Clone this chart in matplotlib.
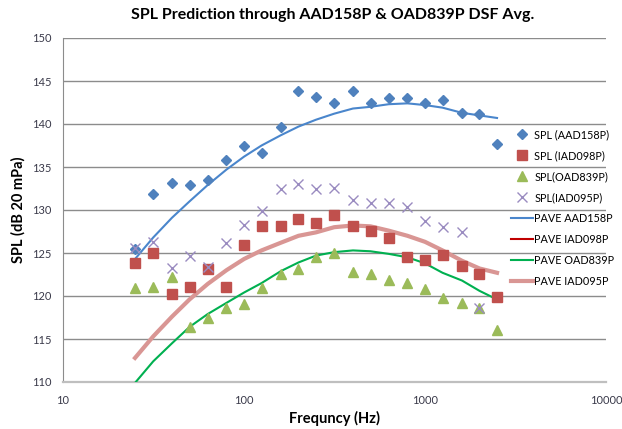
import numpy as np
import matplotlib

matplotlib.use("Agg")
import matplotlib.pyplot as plt

FREQ = [25, 31.5, 40, 50, 63, 80, 100, 125, 160, 200, 250, 315, 400, 500,
        630, 800, 1000, 1250, 1600, 2000, 2500]

SPL_AAD158P = [125.5, 131.9, 133.1, 132.9, 133.5, 135.8, 137.5, 136.6, 139.6, 143.8, 143.1,
               142.4, 143.8, 142.5, 143.0, 143.0, 142.5, 142.8, 141.3, 141.2, 137.7]
SPL_IAD098P = [123.8, 125.0, 120.2, 121.1, 123.1, 121.1, 125.9, 128.1, 128.1, 129.0, 128.5,
               129.4, 128.1, 127.6, 126.7, 124.5, 124.2, 124.8, 123.5, 122.6, 119.9]
SPL_OAD839P = [120.9, 121.0, 122.2, 116.4, 117.5, 118.6, 119.1, 120.9, 122.6, 123.1, 124.5,
               125.0, 122.8, 122.6, 121.9, 121.5, 120.8, 119.8, 119.2, 118.6, 116.0]
SPL_IAD095P = [125.6, 126.3, 123.2, 124.7, 123.4, 126.2, 128.3, 129.9, 132.4, 133.0, 132.5,
               132.6, 131.2, 130.8, 130.8, 130.3, 128.7, 128.0, 127.4, 118.6, np.nan]

PAVE_AAD158P = [124.3, 126.8, 129.1, 131.0, 132.9, 134.7, 136.2, 137.5, 138.7, 139.7, 140.5,
                141.2, 141.8, 142.0, 142.3, 142.4, 142.2, 141.9, 141.3, 141.0, 140.7]
PAVE_IAD098P = [112.8, 115.3, 117.6, 119.6, 121.4, 123.0, 124.3, 125.3, 126.2, 127.0, 127.4,
                128.0, 128.2, 128.1, 127.6, 127.0, 126.3, 125.3, 124.1, 123.2, 122.7]
PAVE_OAD839P = [109.9, 112.4, 114.5, 116.4, 117.9, 119.2, 120.4, 121.5, 122.9, 123.9, 124.7,
                125.1, 125.3, 125.2, 124.9, 124.5, 123.8, 122.7, 121.8, 120.6, 119.6]
PAVE_IAD095P = [112.8, 115.3, 117.6, 119.6, 121.4, 123.0, 124.3, 125.3, 126.2, 127.0, 127.4,
                128.0, 128.2, 128.1, 127.6, 127.0, 126.3, 125.3, 124.1, 123.2, 122.7]

plt.rcParams["font.family"] = ["Lato", "DejaVu Sans"]

fig = plt.figure(figsize=(6.22, 4.29), dpi=100)
ax = fig.add_axes([63 / 622, 1 - 382 / 429, (606 - 63) / 622, (382 - 38) / 429])

ax.plot(FREQ, SPL_AAD158P, "D", color="#4F81BD", ms=5.5, mec="#4F81BD", label="SPL (AAD158P)", zorder=4)
ax.plot(FREQ, SPL_IAD098P, "s", color="#C0504D", ms=7, mec="#C0504D", label="SPL (IAD098P)", zorder=4)
ax.plot(FREQ, SPL_OAD839P, "^", color="#9BBB59", ms=7.5, mec="#9BBB59", label="SPL(OAD839P)", zorder=4)
ax.plot(FREQ, SPL_IAD095P, "x", color="#9A8BC0", ms=7, mew=1.0, label="SPL(IAD095P)", zorder=4)

ax.plot(FREQ, PAVE_AAD158P, "-", color="#4A86CC", lw=1.5, label="PAVE AAD158P", zorder=3)
ax.plot(FREQ, PAVE_IAD098P, "-", color="#C00000", lw=1.5, label="PAVE IAD098P", zorder=2)
ax.plot(FREQ, PAVE_OAD839P, "-", color="#00B050", lw=1.5, label="PAVE OAD839P", zorder=3)
ax.plot(FREQ, PAVE_IAD095P, "-", color="#D99694", lw=3, label="PAVE IAD095P", zorder=3)

ax.set_xscale("log")
ax.set_xlim(10, 10000)
ax.set_ylim(110, 150)
ax.set_yticks(range(110, 151, 5))
ax.set_xticks([10, 100, 1000, 10000])
ax.set_xticklabels(["10", "100", "1000", "10000"])
ax.minorticks_off()
ax.tick_params(axis="both", length=0, labelsize=8, colors="#3a3a4a")
ax.tick_params(axis="x", pad=9)
ax.tick_params(axis="y", pad=8)
ax.grid(axis="y", color="#8c8c8c", lw=1.0)
ax.set_axisbelow(True)
ax.spines[["top", "right"]].set_visible(False)
ax.spines["left"].set_color("#8c8c8c")
ax.spines["bottom"].set_color("#bfbfbf")
ax.spines["bottom"].set_linewidth(1.6)

ax.set_xlabel("Frequncy (Hz)", fontsize=10.5, fontweight="bold", labelpad=4)
ax.set_ylabel("SPL (dB 20 mPa)", fontsize=10.5, fontweight="bold", labelpad=5)
fig.text(333 / 622, 1 - 15 / 429, "SPL Prediction through AAD158P & OAD839P DSF Avg.",
         ha="center", va="center", fontsize=11.5, fontweight="bold")

ax.legend(loc="upper left", bbox_to_anchor=(511 / 622, 1 - 129 / 429), bbox_transform=fig.transFigure,
          frameon=False, fontsize=7.8, handlelength=2.0, handletextpad=0.15, labelspacing=0.92,
          borderaxespad=0, borderpad=0)

fig.savefig("out.png", dpi=100)
plt.close(fig)
